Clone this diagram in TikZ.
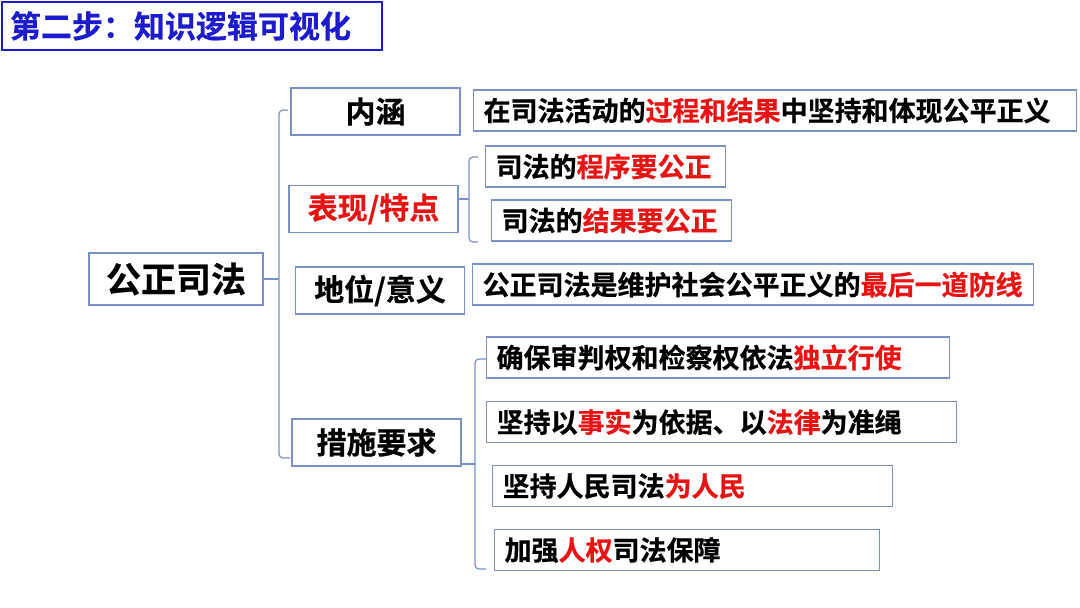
\documentclass[tikz,border=0pt]{standalone}
\usepackage{fontspec}
\setmainfont{Noto Sans CJK SC}[BoldFont={Noto Sans CJK SC Bold}, BoldFeatures={FakeBold=0.6}]
\usetikzlibrary{positioning}
\definecolor{titleblue}{RGB}{28,28,205}
\definecolor{boxblue}{RGB}{120,145,200}
\definecolor{hilite}{RGB}{232,20,20}
\newcommand{\hl}[1]{\textcolor{hilite}{#1}}
\tikzset{
  titlebox/.style={draw=titleblue, line width=2.5pt, text=titleblue, minimum width=380pt, minimum height=48pt,
    inner xsep=8pt, inner ysep=0pt, text width=364pt, align=left, font=\bfseries\fontsize{31}{31}\selectfont},
  rootbox/.style={draw=boxblue, line width=1.2pt, minimum width=174pt, minimum height=52pt, inner sep=0pt,
    font=\bfseries\fontsize{35}{35}\selectfont},
  midbox/.style={draw=boxblue, line width=1.2pt, minimum width=169pt, minimum height=47pt, inner sep=0pt,
    font=\bfseries\fontsize{30}{30}\selectfont},
  leafbox/.style={draw=boxblue, line width=1.2pt, minimum height=41pt, inner xsep=10pt, inner ysep=0pt,
    anchor=west, align=left, font=\bfseries\fontsize{27}{27}\selectfont},
  brace/.style={draw=boxblue, line width=1.2pt, rounded corners=4pt},
}
\begin{document}
\begin{tikzpicture}[x=1pt, y=-1pt]
  \useasboundingbox (0,0) rectangle (1080,608);

  % title
  \node[titlebox] (title) at (192,26) {第二步：知识逻辑可视化};

  % root and second level
  \node[rootbox] (root) at (176,279) {公正司法};
  \node[midbox] (neihan) at (375.5,111.5) {内涵};
  \node[midbox, text=hilite] (biaoxian) at (373.5,209) {表现/特点};
  \node[midbox] (diwei) at (380,290.5) {地位/意义};
  \node[midbox] (cuoshi) at (376.5,442.5) {措施要求};

  % leaves
  \node[leafbox, text width=583pt] (nh1) at (473,110.5) {在司法活动的\hl{过程和结果}中坚持和体现公平正义};
  \node[leafbox, text width=220pt] (bx1) at (485,166.5) {司法的\hl{程序要公正}};
  \node[leafbox, text width=220pt] (bx2) at (491,220.5) {司法的\hl{结果要公正}};
  \node[leafbox, text width=541pt] (dw1) at (472,284.5) {公正司法是维护社会公平正义的\hl{最后一道防线}};
  \node[leafbox, text width=443pt] (cs1) at (486,357.5) {确保审判权和检察权依法\hl{独立行使}};
  \node[leafbox, text width=450pt] (cs2) at (486,422) {坚持以\hl{事实}为依据、以\hl{法律}为准绳};
  \node[leafbox, text width=380pt] (cs3) at (492,486) {坚持人民司法\hl{为人民}};
  \node[leafbox, text width=365pt] (cs4) at (494,550) {加强\hl{人权}司法保障};

  % brackets
  \coordinate (rtop) at (288,110);
  \coordinate (rbot) at (290,458);
  \draw[brace] (rtop) -- (279,110) -- (279,458) -- (rbot);
  \draw[brace] (root.east) -- (279,279);

  \coordinate (btop) at (478,157);
  \coordinate (bbot) at (478,242);
  \draw[brace] (btop) -- (469,157) -- (469,242) -- (bbot);
  \draw[brace] ([yshift=10pt]biaoxian.east) -- (469,199);

  \coordinate (ctop) at (486,359);
  \coordinate (cbot) at (486,569);
  \draw[brace] (ctop) -- (475,359) -- (475,569) -- (cbot);
  \draw[brace] ([yshift=-21.5pt]cuoshi.east) -- (475,464);
\end{tikzpicture}
\end{document}
